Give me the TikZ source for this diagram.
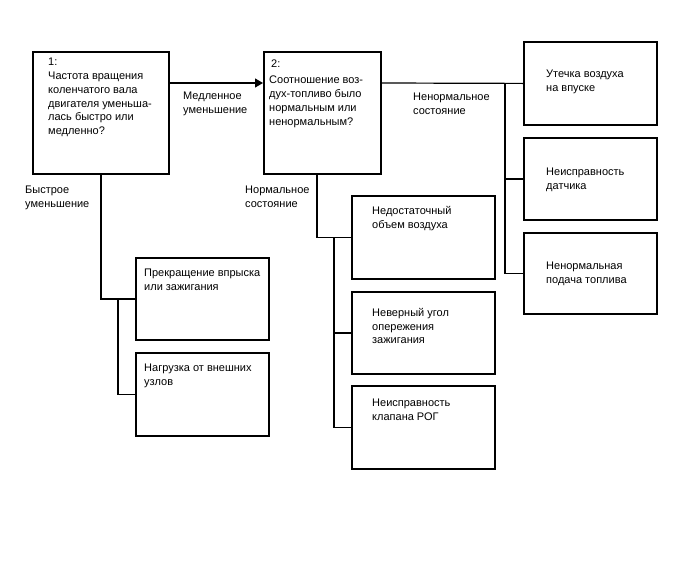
\documentclass[tikz,border=0pt]{standalone}
\usepackage{fontspec}
\setmainfont{Liberation Sans}
\usetikzlibrary{calc,arrows.meta}
\begin{document}
\begin{tikzpicture}[x=1pt,y=-1pt,
  box/.style={draw=black, line width=1.8pt, fill=white, anchor=north west, inner sep=0pt},
  txt/.style={anchor=north west, yshift=7pt, inner sep=0pt, align=left, font=\fontsize{11}{13.8}\selectfont, execute at begin node=\strut},
  conn/.style={draw=black, line width=1.2pt}]
\useasboundingbox[fill=white] (0,0) rectangle (688,560);
% boxes
\node[box, minimum width=136, minimum height=122] (b1) at (32,51) {};
\node[box, minimum width=117, minimum height=122] (b2) at (263,51) {};
\node[box, minimum width=133, minimum height=83] (rA) at (523,41) {};
\node[box, minimum width=133, minimum height=82] (rB) at (523,137) {};
\node[box, minimum width=133, minimum height=81] (rC) at (523,232) {};
\node[box, minimum width=133, minimum height=82] (lA) at (135,257) {};
\node[box, minimum width=133, minimum height=83] (lB) at (135,352) {};
\node[box, minimum width=143, minimum height=83] (mA) at (351,195) {};
\node[box, minimum width=143, minimum height=82] (mB) at (351,291) {};
\node[box, minimum width=143, minimum height=83] (mC) at (351,385) {};
% box texts
\node[txt] (t1) at (48,65) {1:\\Частота вращения\\коленчатого вала\\двигателя уменьша-\\лась быстро или\\медленно?};
\node[txt] (t2n) at (271,65) {2:};
\node[txt] (t2) at (269,83) {Соотношение воз-\\дух-топливо было\\нормальным или\\ненормальным?};
\node[txt] (trA) at (546,77) {Утечка воздуха\\на впуске};
\node[txt] (trB) at (546,175) {Неисправность\\датчика};
\node[txt] (trC) at (546,269) {Ненормальная\\подача топлива};
\node[txt] (tlA) at (144,276) {Прекращение впрыска\\или зажигания};
\node[txt] (tlB) at (144,371) {Нагрузка от внешних\\узлов};
\node[txt] (tmA) at (372,213) {Недостаточный\\объем воздуха};
\node[txt] (tmB) at (372,315) {Неверный угол\\опережения\\зажигания};
\node[txt] (tmC) at (372,406) {Неисправность\\клапана РОГ};
% edge labels
\node[txt] (lslow) at (183,99) {Медленное\\уменьшение};
\node[txt] (lfast) at (25,193) {Быстрое\\уменьшение};
\node[txt] (lnorm) at (245,193) {Нормальное\\состояние};
\node[txt] (labn) at (413,100) {Ненормальное\\состояние};
% connectors
\draw[conn, -{Triangle[length=8pt,width=9pt]}] ($(b1.north east)+(0,32)$) -- ($(b2.north west)+(0,32)$);
\coordinate (rv) at (505,0);
\draw[conn] ($(b2.north east)+(0,32)$) -- (rA.west);
\draw[conn] (rv |- rA.west) |- (rC.west);
\draw[conn] (rv |- rB.west) -- (rB.west);
\draw[conn] (b1.south) |- (lA.west);
\coordinate (lv) at (118,0);
\draw[conn] (lv |- lA.west) |- (lB.west);
\coordinate (mv) at (317,0);
\draw[conn] (mv |- b2.south) |- (mA.west);
\coordinate (mv2) at (334,0);
\draw[conn] (mv2 |- mA.west) |- (mC.west);
\draw[conn] (mv2 |- mB.west) -- (mB.west);
\end{tikzpicture}
\end{document}
